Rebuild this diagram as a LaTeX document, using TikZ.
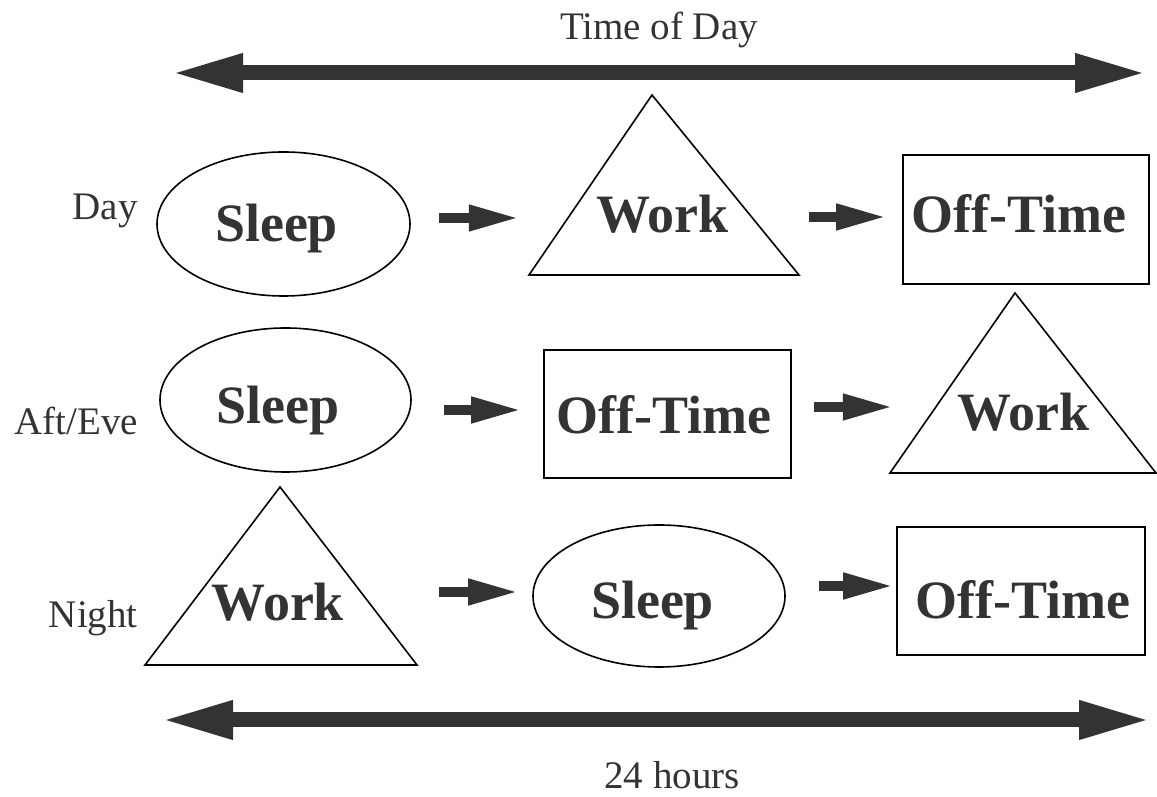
\documentclass[tikz,border=0pt]{standalone}
\usepackage{fontspec}
\setmainfont{Liberation Serif}
\usetikzlibrary{arrows.meta,shapes.geometric}
\definecolor{ArrowClr}{rgb}{0.2,0.2,0.2}
\definecolor{TextClr}{rgb}{0.2,0.2,0.2}

\begin{document}
\begin{tikzpicture}[x=1pt,y=1pt,
  shapeline/.style={draw=black,line width=1.6pt},
  oval/.style={shapeline,ellipse,inner sep=0pt},
  box/.style={shapeline,rectangle,inner sep=0pt},
  activity/.style={anchor=base,inner sep=0pt,text=TextClr,font=\fontsize{54}{60}\selectfont\bfseries},
  rowlabel/.style={anchor=base east,inner sep=0pt,text=TextClr,font=\fontsize{39}{44}\selectfont},
  timeline/.style={ArrowClr,line width=15pt,{Triangle[length=73pt,width=35pt]}-{Triangle[length=73pt,width=35pt]}},
  flow/.style={ArrowClr,line width=10pt,-{Triangle[length=51pt,width=24pt]}}]
\useasboundingbox (0,0) rectangle (1157,797);

\coordinate (dayL) at (170,724);
\coordinate (dayR) at (1148,724);
\coordinate (hrsL) at (160,77);
\coordinate (hrsR) at (1152,77);
\draw[timeline] (dayL) -- (dayR);
\draw[timeline] (hrsL) -- (hrsR);
\node[anchor=base,inner sep=0pt,text=TextClr,font=\fontsize{39}{44}\selectfont] (tod) at (659,757) {Time of Day};
\node[anchor=base,inner sep=0pt,text=TextClr,font=\fontsize{39}{44}\selectfont] (hrs) at (672,8) {24 hours};

\node[rowlabel] (day) at (138,577) {Day};
\node[rowlabel] (afteve) at (138,362) {Aft/Eve};
\node[rowlabel] (night) at (138,169) {Night};

\node[oval,minimum width=253pt,minimum height=144pt] (sleepA) at (283.5,573) {};
\draw[shapeline,line join=miter] (529,522) -- (652,702) -- (799,522) -- cycle;
\node[box,minimum width=246pt,minimum height=129pt] (offA) at (1026,577.5) {};
\node[activity] (sleepAtxt) at (276.5,555) {Sleep};
\node[activity] (workAtxt) at (662.5,564) {Work};
\node[activity] (offAtxt) at (1019,564) {Off-Time};

\node[oval,minimum width=251pt,minimum height=144pt] (sleepB) at (285.5,397) {};
\node[box,minimum width=247pt,minimum height=128pt] (offB) at (667.5,383) {};
\draw[shapeline,line join=miter] (890,324) -- (1015,504) -- (1156,324) -- cycle;
\node[activity] (sleepBtxt) at (278,373) {Sleep};
\node[activity] (offBtxt) at (664,363) {Off-Time};
\node[activity] (workBtxt) at (1023,366) {Work};

\draw[shapeline,line join=miter] (145,132) -- (280,310) -- (417,132) -- cycle;
\node[oval,minimum width=252pt,minimum height=142pt] (sleepC) at (659,201) {};
\node[box,minimum width=248pt,minimum height=128pt] (offC) at (1021,206) {};
\node[activity] (workCtxt) at (278,176) {Work};
\node[activity] (sleepCtxt) at (652.5,178) {Sleep};
\node[activity] (offCtxt) at (1023,178) {Off-Time};

\draw[flow,shorten <=28pt] ([yshift=6pt]sleepA.east) -- +(109,0);
\draw[flow,shorten >=15pt] ([shift={(-93,2.5)}]offA.west) -- ([yshift=2.5pt]offA.west);
\draw[flow,shorten <=32pt,shorten >=21pt] ([yshift=-10pt]sleepB.east) -- ([yshift=4pt]offB.west);
\draw[flow,shorten <=22pt] ([yshift=7pt]offB.east) -- +(102,0);
\draw[flow,shorten >=13pt] ([shift={(-93,4)}]sleepC.west) -- ([yshift=4pt]sleepC.west);
\draw[flow,shorten <=33pt,shorten >=2pt] ([yshift=10pt]sleepC.east) -- ([yshift=5pt]offC.west);

\end{tikzpicture}
\end{document}
